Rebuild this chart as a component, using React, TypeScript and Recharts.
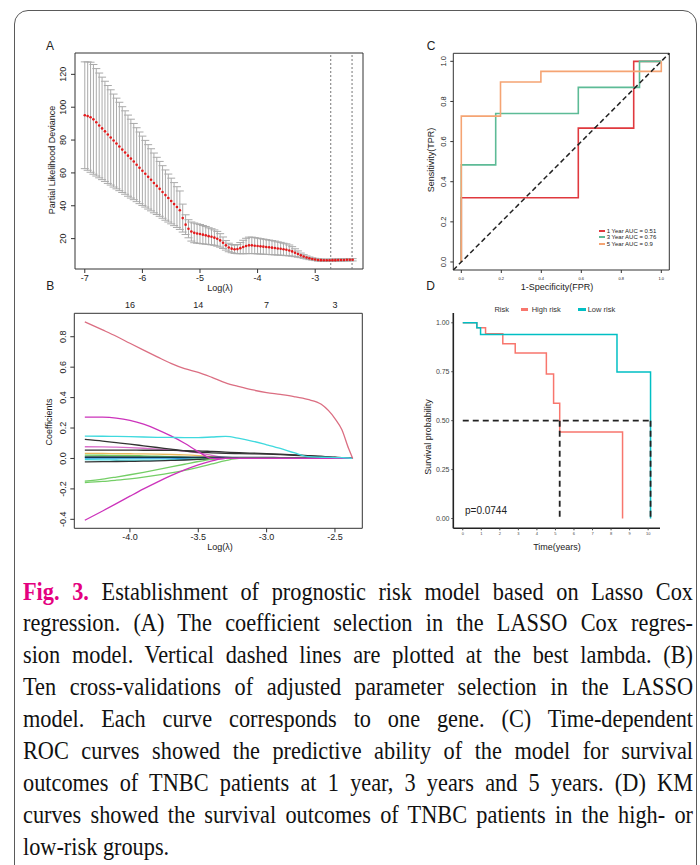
import React from 'react';
import {
  ComposedChart,
  LineChart,
  Line,
  XAxis,
  YAxis,
  ErrorBar,
  ReferenceLine,
  ReferenceArea,
} from 'recharts';

const SANS = '"Liberation Sans", Arial, sans-serif';
const SERIF = '"Liberation Serif", "Times New Roman", serif';

// ---- A: cross-validated partial likelihood deviance ----
const cvLogLambda = [
  -7.0, -6.95, -6.9, -6.85, -6.8, -6.75, -6.7, -6.65, -6.6, -6.55,
  -6.5, -6.45, -6.4, -6.35, -6.3, -6.25, -6.2, -6.15, -6.1, -6.05,
  -6.0, -5.95, -5.9, -5.85, -5.8, -5.75, -5.7, -5.65, -5.6, -5.55,
  -5.5, -5.45, -5.4, -5.35, -5.3, -5.25, -5.2, -5.15, -5.1, -5.05,
  -5.0, -4.95, -4.9, -4.85, -4.8, -4.75, -4.7, -4.65, -4.6, -4.55,
  -4.5, -4.45, -4.4, -4.35, -4.3, -4.25, -4.2, -4.15, -4.1, -4.05,
  -4.0, -3.95, -3.9, -3.85, -3.8, -3.75, -3.7, -3.65, -3.6, -3.55,
  -3.5, -3.45, -3.4, -3.35, -3.3, -3.25, -3.2, -3.15, -3.1, -3.05,
  -3.0, -2.95, -2.9, -2.85, -2.8, -2.75, -2.7, -2.65, -2.6, -2.55,
  -2.5, -2.45, -2.4, -2.35,
];
const cvMean = [
  95.1, 94.6, 93.9, 92.6, 90.8, 88.9, 87.1, 85.3, 83.4, 81.6,
  79.7, 77.9, 76.1, 74.2, 72.4, 70.5, 68.7, 66.9, 65.0, 63.1,
  61.3, 59.5, 57.6, 55.8, 53.9, 52.1, 50.3, 48.4, 46.5, 44.7,
  42.9, 41.0, 39.2, 37.3, 32.5, 28.5, 26.0, 24.3, 23.5, 23.1,
  22.8, 22.4, 22.0, 21.5, 21.1, 20.6, 19.9, 18.9, 17.5, 15.9,
  14.6, 13.9, 13.5, 13.6, 14.2, 14.9, 15.5, 15.9, 15.9, 15.7,
  15.5, 15.3, 15.1, 14.9, 14.7, 14.5, 14.3, 14.0, 13.8, 13.5,
  13.2, 12.8, 12.2, 11.4, 10.6, 9.8, 9.1, 8.5, 8.0, 7.6,
  7.3, 7.0, 6.9, 6.8, 6.8, 6.8, 6.9, 6.9, 7.0, 7.0,
  7.0, 7.1, 7.1, 7.1,
];
const cvSe = [
  32.5, 33.0, 33.5, 33.4, 32.7, 31.9, 31.2, 30.5, 29.8, 29.0,
  28.3, 27.6, 26.9, 26.1, 25.4, 24.7, 24.0, 23.2, 22.5, 21.8,
  21.1, 20.3, 19.6, 18.9, 18.2, 17.4, 16.7, 16.0, 15.3, 14.6,
  13.9, 13.1, 12.4, 11.7, 8.5, 6.0, 5.5, 5.8, 6.0, 5.9,
  5.8, 5.6, 5.4, 5.1, 4.9, 4.7, 4.5, 4.1, 3.5, 2.9,
  2.6, 2.5, 2.5, 2.8, 3.4, 4.1, 4.7, 5.0, 5.0, 4.9,
  4.8, 4.7, 4.6, 4.5, 4.4, 4.3, 4.2, 4.0, 3.9, 3.7,
  3.6, 3.3, 2.9, 2.4, 1.9, 1.4, 1.1, 0.9, 0.8, 0.7,
  0.7, 0.7, 0.7, 0.7, 0.7, 0.7, 0.7, 0.7, 0.7, 0.7,
  0.7, 0.7, 0.7, 0.7,
];
const cvBestLambda = [-2.73, -2.36];
const cvXTicks = [-7, -6, -5, -4, -3];
const cvYTicks = [20, 40, 60, 80, 100, 120];

// ---- B: coefficient paths ----
const pathLogLambda = [
  -4.33, -4.2, -4.1, -4.0, -3.9, -3.8, -3.7, -3.6, -3.5, -3.4, -3.3,
  -3.2, -3.1, -3.0, -2.9, -2.8, -2.7, -2.6, -2.5, -2.45, -2.4, -2.37,
];
const pathCoefs = [
  [0.003, 0.003, 0.003, 0.003, 0.002, 0.002, 0.002, 0.001, 0.001, 0, 0, 0, 0, 0, 0, 0, 0, 0, 0, 0, 0, 0],
  [0.013, 0.013, 0.012, 0.012, 0.011, 0.01, 0.008, 0.006, 0.003, 0, 0, 0, 0, 0, 0, 0, 0, 0, 0, 0, 0, 0],
  [-0.008, -0.009, -0.01, -0.011, -0.011, -0.011, -0.01, -0.008, -0.005, -0.002, 0, 0, 0, 0, 0, 0, 0, 0, 0, 0, 0, 0],
  [0.022, 0.021, 0.02, 0.019, 0.017, 0.015, 0.012, 0.008, 0.004, 0, 0, 0, 0, 0, 0, 0, 0, 0, 0, 0, 0, 0],
  [0.033, 0.033, 0.032, 0.031, 0.03, 0.028, 0.026, 0.023, 0.018, 0.011, 0.004, 0, 0, 0, 0, 0, 0, 0, 0, 0, 0, 0],
  [0.077, 0.076, 0.074, 0.071, 0.067, 0.062, 0.056, 0.048, 0.036, 0.02, 0.005, 0, 0, 0, 0, 0, 0, 0, 0, 0, 0, 0],
  [0.008, 0.008, 0.008, 0.008, 0.008, 0.008, 0.008, 0.008, 0.008, 0.008, 0.008, 0.007, 0.007, 0.007, 0.006, 0.006, 0.005, 0.004, 0.003, 0.002, 0.001, 0],
  [-0.022, -0.021, -0.02, -0.019, -0.018, -0.016, -0.013, -0.01, -0.006, -0.002, 0, 0, 0, 0, 0, 0, 0, 0, 0, 0, 0, 0],
  [0.055, 0.055, 0.055, 0.055, 0.054, 0.054, 0.053, 0.052, 0.05, 0.046, 0.042, 0.038, 0.035, 0.032, 0.028, 0.024, 0.019, 0.014, 0.008, 0.005, 0.002, 0],
  [-0.158, -0.151, -0.143, -0.134, -0.123, -0.11, -0.095, -0.078, -0.058, -0.036, -0.014, 0, 0, 0, 0, 0, 0, 0, 0, 0, 0, 0],
  [-0.149, -0.136, -0.122, -0.107, -0.091, -0.074, -0.056, -0.038, -0.02, -0.006, 0, 0, 0, 0, 0, 0, 0, 0, 0, 0, 0, 0],
  [-0.406, -0.345, -0.297, -0.248, -0.2, -0.155, -0.113, -0.075, -0.042, -0.016, 0, 0, 0, 0, 0, 0, 0, 0, 0, 0, 0, 0],
  [0.125, 0.114, 0.104, 0.094, 0.083, 0.072, 0.061, 0.05, 0.041, 0.037, 0.034, 0.032, 0.03, 0.028, 0.025, 0.021, 0.017, 0.013, 0.007, 0.004, 0.002, 0],
  [0.272, 0.271, 0.265, 0.25, 0.225, 0.19, 0.148, 0.1, 0.045, 0, 0, 0, 0, 0, 0, 0, 0, 0, 0, 0, 0, 0],
  [0.147, 0.146, 0.145, 0.143, 0.141, 0.139, 0.138, 0.137, 0.137, 0.141, 0.145, 0.132, 0.113, 0.09, 0.066, 0.038, 0.012, 0.008, 0.006, 0.005, 0.003, 0],
  [0.898, 0.845, 0.803, 0.757, 0.712, 0.668, 0.625, 0.59, 0.566, 0.533, 0.497, 0.472, 0.45, 0.433, 0.421, 0.407, 0.388, 0.356, 0.262, 0.19, 0.065, 0],
];
const pathColors = [
  '#2297E6', '#9E9E9E', '#3FD9DE', '#70CC60', '#E8B85A', '#DA6FCB', '#123A4A', '#333333',
  '#333333', '#74CE66', '#74CE66', '#CC33BB', '#333333', '#CC33BB', '#3FD9DE', '#DB6E82',
];
const pathXTicks = [-4.0, -3.5, -3.0, -2.5];
const pathDfLabels = ['16', '14', '7', '3'];
const pathYTicks = [-0.4, -0.2, 0, 0.2, 0.4, 0.6, 0.8];

// ---- C: time-dependent ROC ----
const roc1Fpr = [0, 0, 0.585, 0.585, 0.862, 0.862, 1];
const roc1Tpr = [0, 0.32, 0.32, 0.667, 0.667, 1, 1];
const roc3Fpr = [0, 0, 0.172, 0.172, 0.585, 0.585, 0.891, 0.891, 1];
const roc3Tpr = [0, 0.484, 0.484, 0.74, 0.74, 0.87, 0.87, 1, 1];
const roc5Fpr = [0, 0, 0.196, 0.196, 0.398, 0.398, 1, 1];
const roc5Tpr = [0, 0.727, 0.727, 0.897, 0.897, 0.95, 0.95, 1];
const rocLabels = ['1 Year AUC = 0.51', '3 Year AUC = 0.76', '5 Year AUC = 0.9'];
const rocColors = ['#E0393E', '#5DBB96', '#F5A473'];
const rocTicks = [0, 0.2, 0.4, 0.6, 0.8, 1.0];

// ---- D: Kaplan-Meier ----
const kmHighTime = [0, 0.76, 1.23, 2.16, 2.83, 4.51, 4.9, 5.23, 8.62];
const kmHighSurv = [1, 0.975, 0.944, 0.893, 0.846, 0.738, 0.589, 0.442, 0];
const kmLowTime = [0, 0.76, 0.96, 8.32, 10.13];
const kmLowSurv = [1, 0.975, 0.94, 0.749, 0];
const kmMedianTime = [5.23, 10.13];
const kmMedianSurv = 0.5;
const kmGroups = ['High risk', 'Low risk'];
const kmColors = ['#F8766D', '#00BFC4'];
const kmXTicks = [0, 1, 2, 3, 4, 5, 6, 7, 8, 9, 10];
const kmYTicks = [0, 0.25, 0.5, 0.75, 1];
const kmPValue = 'p=0.0744';

const captionLines = [
  'Establishment of prognostic risk model based on Lasso Cox',
  'regression. (A) The coefficient selection in the LASSO Cox regres-',
  'sion model. Vertical dashed lines are plotted at the best lambda. (B)',
  'Ten cross-validations of adjusted parameter selection in the LASSO',
  'model. Each curve corresponds to one gene. (C) Time-dependent',
  'ROC curves showed the predictive ability of the model for survival',
  'outcomes of TNBC patients at 1 year, 3 years and 5 years. (D) KM',
  'curves showed the survival outcomes of TNBC patients in the high- or',
  'low-risk groups.',
];

const A_X = [-7.17, -2.17];
const A_Y = [1.5, 133];
const B_X = [-4.407, -2.3];
const B_Y = [-0.459, 0.954];
const C_D = [-0.04, 1.04];
const D_X = [-0.51, 10.64];
const D_Y = [-0.05, 1.05];

const cvRows = cvLogLambda.map((x, i) => ({ x, m: cvMean[i], se: cvSe[i] }));
const pathRows = pathLogLambda.map((x, i) => {
  const r: any = { x };
  pathCoefs.forEach((c, k) => {
    r['g' + k] = c[i];
  });
  return r;
});
const pairs = (xs: number[], ys: number[]) => xs.map((x, i) => ({ x, y: ys[i] }));
const rocSets = [pairs(roc1Fpr, roc1Tpr), pairs(roc3Fpr, roc3Tpr), pairs(roc5Fpr, roc5Tpr)];
const kmSets = [pairs(kmHighTime, kmHighSurv), pairs(kmLowTime, kmLowSurv)];

const rotTick = (fs: number, digits?: number) => (props: any) => {
  const { x, y, payload } = props;
  const v = digits == null ? String(payload.value) : Number(payload.value).toFixed(digits);
  return (
    <text x={x} y={y} transform={`rotate(-90 ${x} ${y})`} textAnchor="middle" fontSize={fs} fontFamily={SANS} fill="#222">
      {v}
    </text>
  );
};

const Centered = ({ cx, cy, size, rot, children, color = '#222' }: any) => (
  <div
    style={{
      position: 'absolute',
      left: cx,
      top: cy,
      transform: `translate(-50%, -50%)${rot ? ` rotate(${rot}deg)` : ''}`,
      fontSize: size,
      lineHeight: 1,
      whiteSpace: 'nowrap',
      color,
      fontFamily: SANS,
    }}
  >
    {children}
  </div>
);

const LeftText = ({ x, cy, size, children, color = '#222' }: any) => (
  <div
    style={{
      position: 'absolute',
      left: x,
      top: cy,
      transform: 'translateY(-50%)',
      fontSize: size,
      lineHeight: 1,
      whiteSpace: 'nowrap',
      color,
      fontFamily: SANS,
    }}
  >
    {children}
  </div>
);

const box = (x: number[], y: number[]) => (
  <ReferenceArea x1={x[0]} x2={x[1]} y1={y[0]} y2={y[1]} fill="none" stroke="#333" strokeWidth={1} />
);

const tickFont = (fs: number, fill = '#222') => ({ fontSize: fs, fill, fontFamily: SANS });

// caption is set in a narrow serif: draw wider then squeeze horizontally
const CAP_SCALE = 0.91;

const App = () => {
  return (
    <div style={{ position: 'absolute', left: 0, top: 0, width: 700, height: 865, overflow: 'hidden', background: '#fff' }}>
      <div
        style={{
          position: 'absolute',
          left: 14,
          top: 10,
          width: 683,
          height: 900,
          boxSizing: 'border-box',
          border: '1.5px solid #5a5a5a',
          borderRadius: 14,
        }}
      />

      {/* A */}
      <div style={{ position: 'absolute', left: 20, top: 30 }}>
        <ComposedChart width={360} height={260} data={cvRows} margin={{ top: 23, right: 17, bottom: 0, left: 0 }}>
          <XAxis
            type="number"
            dataKey="x"
            domain={A_X}
            allowDataOverflow
            ticks={cvXTicks}
            interval={0}
            height={21}
            axisLine={false}
            tickSize={4}
            tickMargin={2}
            tickLine={{ stroke: '#333' }}
            tick={tickFont(9)}
          />
          <YAxis
            type="number"
            domain={A_Y}
            allowDataOverflow
            ticks={cvYTicks}
            interval={0}
            width={55}
            axisLine={false}
            tickSize={4}
            tickMargin={4.5}
            tickLine={{ stroke: '#333' }}
            tick={rotTick(9)}
          />
          {box(A_X, A_Y)}
          {cvBestLambda.map((v) => (
            <ReferenceLine key={v} x={v} stroke="#777" strokeDasharray="2 2" strokeWidth={1} />
          ))}
          <Line
            dataKey="m"
            stroke="none"
            isAnimationActive={false}
            dot={{ r: 1.3, fill: '#E41A1C', stroke: 'none' }}
          >
            <ErrorBar dataKey="se" width={4} stroke="#aaaaaa" strokeWidth={1} direction="y" />
          </Line>
        </ComposedChart>
      </div>

      {/* B */}
      <div style={{ position: 'absolute', left: 20, top: 290 }}>
        <LineChart width={360} height={260} data={pathRows} margin={{ top: 0, right: 17.7, bottom: 0, left: 0 }}>
          <XAxis
            type="number"
            dataKey="x"
            domain={B_X}
            allowDataOverflow
            ticks={pathXTicks}
            interval={0}
            height={21.7}
            axisLine={false}
            tickSize={4}
            tickMargin={1}
            tickLine={{ stroke: '#333' }}
            tickFormatter={(v: number) => v.toFixed(1)}
            tick={tickFont(9)}
          />
          <XAxis
            xAxisId="top"
            orientation="top"
            type="number"
            dataKey="x"
            domain={B_X}
            allowDataOverflow
            ticks={pathXTicks}
            interval={0}
            height={23.3}
            axisLine={false}
            tickLine={false}
            tickSize={0}
            tickMargin={5}
            tickFormatter={(v: number) => pathDfLabels[pathXTicks.indexOf(v)]}
            tick={tickFont(9)}
          />
          <YAxis
            type="number"
            domain={B_Y}
            allowDataOverflow
            ticks={pathYTicks}
            interval={0}
            width={54.3}
            axisLine={false}
            tickSize={4}
            tickMargin={4.5}
            tickLine={{ stroke: '#333' }}
            tick={rotTick(9, 1)}
          />
          {box(B_X, B_Y)}
          {pathCoefs.map((_, k) => (
            <Line
              key={k}
              dataKey={'g' + k}
              type="monotone"
              stroke={pathColors[k]}
              strokeWidth={1.3}
              dot={false}
              isAnimationActive={false}
            />
          ))}
        </LineChart>
      </div>

      {/* C */}
      <div style={{ position: 'absolute', left: 400, top: 30 }}>
        <LineChart width={290} height={260} margin={{ top: 23.3, right: 20.7, bottom: 0, left: 0 }}>
          <XAxis
            type="number"
            dataKey="x"
            domain={C_D}
            allowDataOverflow
            ticks={rocTicks}
            interval={0}
            height={20}
            axisLine={false}
            tickSize={3}
            tickMargin={4}
            tickLine={{ stroke: '#333' }}
            tickFormatter={(v: number) => v.toFixed(1)}
            tick={tickFont(4)}
          />
          <YAxis
            type="number"
            dataKey="y"
            domain={C_D}
            allowDataOverflow
            ticks={rocTicks}
            interval={0}
            width={53.3}
            axisLine={false}
            tickSize={3}
            tickMargin={4.6}
            tickLine={{ stroke: '#333' }}
            tick={rotTick(7.5, 1)}
          />
          {box(C_D, C_D)}
          {rocSets.map((d, k) => (
            <Line
              key={k}
              data={d}
              dataKey="y"
              type="linear"
              stroke={rocColors[k]}
              strokeWidth={1.6}
              dot={false}
              isAnimationActive={false}
            />
          ))}
          <ReferenceLine
            segment={[
              { x: C_D[0], y: C_D[0] },
              { x: C_D[1], y: C_D[1] },
            ]}
            stroke="#222"
            strokeWidth={1.5}
            strokeDasharray="5 3"
          />
        </LineChart>
      </div>

      {/* D */}
      <div style={{ position: 'absolute', left: 400, top: 290 }}>
        <LineChart width={290} height={260} margin={{ top: 23, right: 30, bottom: 0, left: 0 }}>
          <XAxis
            type="number"
            dataKey="x"
            domain={D_X}
            allowDataOverflow
            ticks={kmXTicks}
            interval={0}
            height={21.7}
            axisLine={{ stroke: '#222', strokeWidth: 1.6 }}
            tickSize={2}
            tickMargin={2.3}
            tickLine={{ stroke: '#444' }}
            tick={tickFont(4, '#444')}
          />
          <YAxis
            type="number"
            dataKey="y"
            domain={D_Y}
            allowDataOverflow
            ticks={kmYTicks}
            interval={0}
            width={53.3}
            axisLine={{ stroke: '#222', strokeWidth: 1.6 }}
            tickSize={2}
            tickMargin={1.8}
            tickLine={{ stroke: '#444' }}
            tickFormatter={(v: number) => v.toFixed(2)}
            tick={tickFont(7, '#444')}
          />
          {kmSets.map((d, k) => (
            <Line
              key={k}
              data={d}
              dataKey="y"
              type="stepAfter"
              stroke={kmColors[k]}
              strokeWidth={1.5}
              dot={false}
              isAnimationActive={false}
            />
          ))}
          <ReferenceLine
            segment={[
              { x: 0, y: kmMedianSurv },
              { x: kmMedianTime[1], y: kmMedianSurv },
            ]}
            stroke="#222"
            strokeWidth={1.8}
            strokeDasharray="6 4"
          />
          {kmMedianTime.map((t) => (
            <ReferenceLine
              key={t}
              segment={[
                { x: t, y: kmMedianSurv },
                { x: t, y: 0 },
              ]}
              stroke="#222"
              strokeWidth={1.8}
              strokeDasharray="6 4"
            />
          ))}
        </LineChart>
      </div>

      {/* panel letters and axis titles */}
      <Centered cx={50} cy={45.8} size={12}>A</Centered>
      <Centered cx={50.3} cy={286.2} size={12}>B</Centered>
      <Centered cx={431.2} cy={45.8} size={12}>C</Centered>
      <Centered cx={430.5} cy={285.5} size={12}>D</Centered>

      <Centered cx={52} cy={160} size={9} rot={-90}>Partial Likelihood Deviance</Centered>
      <Centered cx={220} cy={288} size={9}>Log(λ)</Centered>
      <Centered cx={49} cy={421.7} size={9} rot={-90}>Coefficients</Centered>
      <Centered cx={220} cy={547} size={9}>Log(λ)</Centered>
      <Centered cx={431} cy={160} size={9} rot={-90}>Sensitivity(TPR)</Centered>
      <Centered cx={557} cy={287} size={9}>1-Specificity(FPR)</Centered>
      <Centered cx={428.3} cy={436.7} size={9} rot={-90}>Survival probability</Centered>
      <Centered cx={557} cy={547} size={9}>Time(years)</Centered>

      {/* C legend */}
      {rocLabels.map((t, k) => (
        <React.Fragment key={t}>
          <div
            style={{
              position: 'absolute',
              left: 599.3,
              top: 230.7 + k * 6.5 - 1,
              width: 5.4,
              height: 2,
              background: rocColors[k],
            }}
          />
          <LeftText x={606.7} cy={230.7 + k * 6.5} size={6}>
            {t}
          </LeftText>
        </React.Fragment>
      ))}

      {/* D legend */}
      <Centered cx={501.7} cy={309.5} size={7.5} color="#333">Risk</Centered>
      {kmGroups.map((g, k) => (
        <React.Fragment key={g}>
          <div
            style={{
              position: 'absolute',
              left: k === 0 ? 520.7 : 578.3,
              top: 307.8,
              width: 7.4,
              height: 3.4,
              background: kmColors[k],
            }}
          />
          <LeftText x={k === 0 ? 531.7 : 587.7} cy={309.5} size={7.5} color="#333">
            {g}
          </LeftText>
        </React.Fragment>
      ))}
      <LeftText x={465} cy={510.7} size={10} color="#222">
        {kmPValue}
      </LeftText>

      {/* caption */}
      <div
        style={{
          position: 'absolute',
          left: 23,
          top: 575.5,
          width: 670 / CAP_SCALE,
          transform: `scaleX(${CAP_SCALE})`,
          transformOrigin: 'left top',
          fontFamily: SERIF,
          fontSize: 24.5,
          lineHeight: '31.9px',
          color: '#111',
        }}
      >
        {captionLines.map((line, i) => (
          <div
            key={i}
            style={{
              textAlign: 'justify',
              textAlignLast: i === captionLines.length - 1 ? 'left' : 'justify',
            }}
          >
            {i === 0 && <span style={{ color: '#E4007F', fontWeight: 'bold' }}>Fig. 3. </span>}
            {line}
          </div>
        ))}
      </div>
    </div>
  );
};

export default App;
